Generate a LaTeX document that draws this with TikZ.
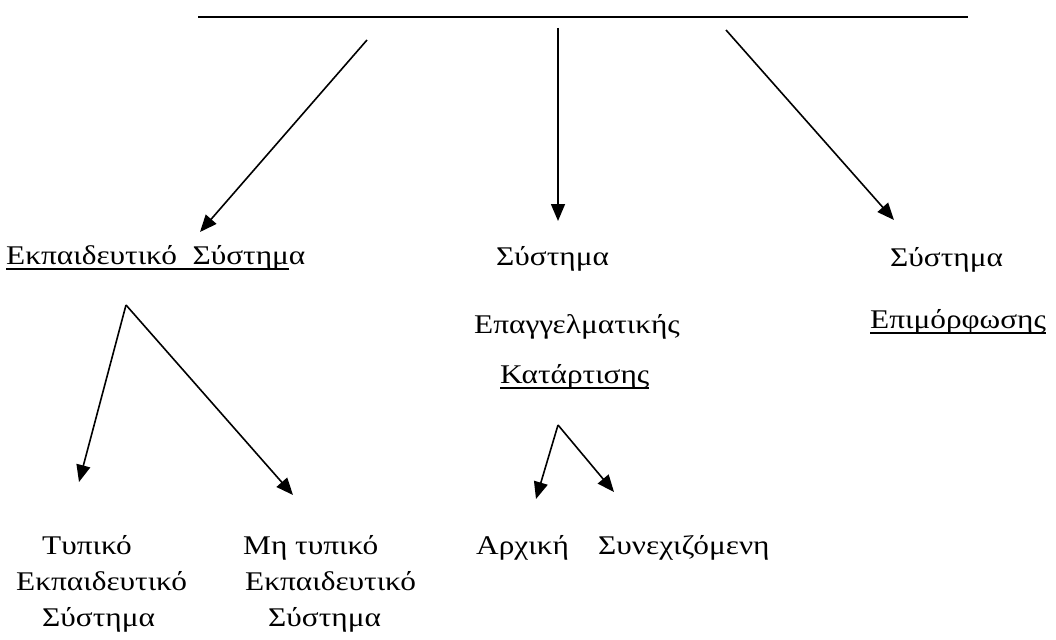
\documentclass[tikz,border=0pt]{standalone}
\usepackage{fontspec}
\setmainfont{Liberation Serif}[FakeStretch=1.16]
\usetikzlibrary{arrows.meta}
\newcommand\myul[1]{\setbox0=\hbox{#1}\rlap{\rule[-6pt]{\wd0}{1.8pt}}\box0}
\tikzset{
  lbl/.style={anchor=base west, inner sep=0pt, font=\fontsize{27}{32}\selectfont},
  arr/.style={line width=1.6pt, -{Triangle[length=17pt,width=14pt]}},
}
\begin{document}
\begin{tikzpicture}[x=1pt,y=-1pt]
\useasboundingbox (0,0) rectangle (1056,639);
% top line
\coordinate (tl) at (198,17);
\coordinate (tr) at (968,17);
\draw[line width=1.6pt] (tl) -- (tr);
% level 1 labels
\node[lbl] (es) at (6,264) {\myul{Εκπαιδευτικό\ \ Σύστημ}α};
\node[lbl] (s2) at (496,265) {Σύστημα};
\node[lbl] (ep) at (474,333) {Επαγγελματικής};
\node[lbl] (kat) at (500,383) {\myul{Κατάρτισης}};
\node[lbl] (s3) at (890,266) {Σύστημα};
\node[lbl] (epi) at (870,328) {\myul{Επιμόρφωσης}};
% level 2 labels
\node[lbl] (t1) at (42,554) {Τυπικό};
\node[lbl] (t2) at (16,590) {Εκπαιδευτικό};
\node[lbl] (t3) at (42,626) {Σύστημα};
\node[lbl] (m1) at (243,554) {Μη τυπικό};
\node[lbl] (m2) at (245,590) {Εκπαιδευτικό};
\node[lbl] (m3) at (268,626) {Σύστημα};
\node[lbl] (ar) at (476,554) {Αρχική};
\node[lbl] (sy) at (598,554) {Συνεχιζόμενη};
% arrow coordinates
\coordinate (a1s) at (367,40);  \coordinate (a1e) at (200,232);
\coordinate (a2s) at (558,28);  \coordinate (a2e) at (558,221);
\coordinate (a3s) at (726,30);  \coordinate (a3e) at (894,220);
\coordinate (b0) at (126,305);
\coordinate (b1) at (79,482);   \coordinate (b2) at (293,495);
\coordinate (c0) at (558,425);
\coordinate (c1) at (536,499);  \coordinate (c2) at (614,492);
\draw[arr] (a1s) -- (a1e);
\draw[arr] (a2s) -- (a2e);
\draw[arr] (a3s) -- (a3e);
\draw[arr] (b0) -- (b1);
\draw[arr] (b0) -- (b2);
\draw[arr] (c0) -- (c1);
\draw[arr] (c0) -- (c2);
\end{tikzpicture}
\end{document}
